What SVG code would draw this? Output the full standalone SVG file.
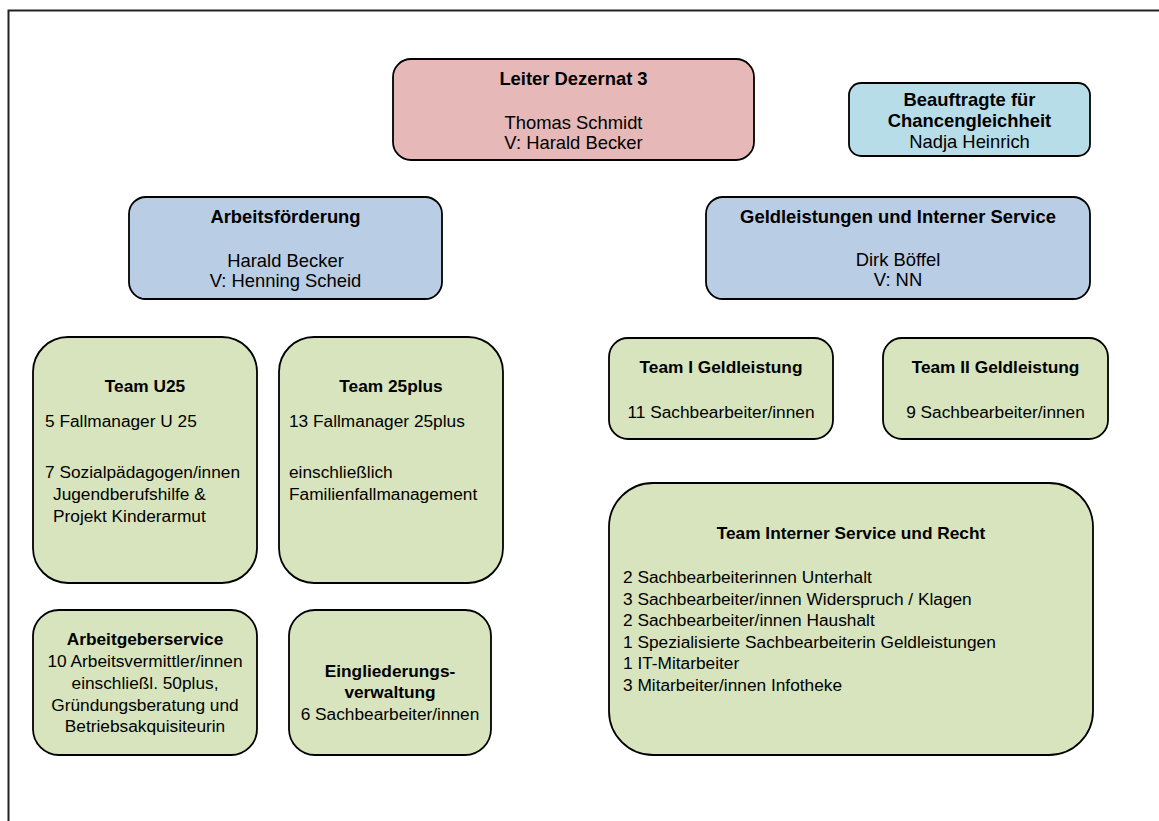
<svg xmlns="http://www.w3.org/2000/svg" width="1159" height="821" viewBox="0 0 1159 821">
<style>
  .box { stroke: #000; stroke-width: 1.8; }
  .red { fill: #e6b8b7; }
  .cyan { fill: #b7dde8; }
  .blue { fill: #b9cde5; }
  .green { fill: #d7e4bd; }
  text { font-family: "Liberation Sans", Arial, sans-serif; fill: #000; }
  .l { font-size: 18.4px; }
  .s { font-size: 17.3px; }
  .b { font-weight: bold; }
  .c { text-anchor: middle; }
</style>
<rect x="0" y="0" width="1159" height="821" fill="#fff"/>
<path d="M8.5,821 V10.5 H1159" fill="none" stroke="#222" stroke-width="2"/>
<g id="connectors"></g>

<g id="leiter">
  <rect class="box red" x="393" y="59" width="361" height="101" rx="18"/>
  <text class="l b c" x="573.5" y="85">Leiter Dezernat 3</text>
  <text class="l c" x="573.5" y="129">Thomas Schmidt</text>
  <text class="l c" x="573.5" y="149">V: Harald Becker</text>
</g>

<g id="beauftragte">
  <rect class="box cyan" x="849" y="83" width="241" height="73" rx="12"/>
  <text class="l b c" x="969.5" y="106">Beauftragte für</text>
  <text class="l b c" x="969.5" y="127">Chancengleichheit</text>
  <text class="l c" x="969.5" y="148">Nadja Heinrich</text>
</g>

<g id="arbeitsfoerderung">
  <rect class="box blue" x="129" y="197" width="313" height="102" rx="17"/>
  <text class="l b c" x="285.5" y="223">Arbeitsförderung</text>
  <text class="l c" x="285.5" y="267">Harald Becker</text>
  <text class="l c" x="285.5" y="287">V: Henning Scheid</text>
</g>

<g id="geldleistungen">
  <rect class="box blue" x="706" y="197" width="384" height="102" rx="17"/>
  <text class="l b c" x="898" y="223">Geldleistungen und Interner Service</text>
  <text class="l c" x="898" y="266">Dirk Böffel</text>
  <text class="l c" x="898" y="286">V: NN</text>
</g>

<g id="team-u25">
  <rect class="box green" x="33" y="337" width="224" height="246" rx="35"/>
  <text class="s b c" x="145" y="392">Team U25</text>
  <text class="s" x="45" y="427">5 Fallmanager U 25</text>
  <text class="s" x="45" y="478">7 Sozialpädagogen/innen</text>
  <text class="s" x="53" y="500">Jugendberufshilfe &amp;</text>
  <text class="s" x="53" y="522">Projekt Kinderarmut</text>
</g>

<g id="team-25plus">
  <rect class="box green" x="279" y="337" width="224" height="246" rx="35"/>
  <text class="s b c" x="391" y="392">Team 25plus</text>
  <text class="s" x="289" y="427">13 Fallmanager 25plus</text>
  <text class="s" x="289" y="478">einschließlich</text>
  <text class="s" x="289" y="500">Familienfallmanagement</text>
</g>

<g id="arbeitgeberservice">
  <rect class="box green" x="33" y="610" width="224" height="145" rx="26"/>
  <text class="s b c" x="145" y="645">Arbeitgeberservice</text>
  <text class="s c" x="145" y="667">10 Arbeitsvermittler/innen</text>
  <text class="s c" x="145" y="689">einschließl. 50plus,</text>
  <text class="s c" x="145" y="711">Gründungsberatung und</text>
  <text class="s c" x="145" y="732">Betriebsakquisiteurin</text>
</g>

<g id="eingliederungsverwaltung">
  <rect class="box green" x="289" y="610" width="202" height="145" rx="26"/>
  <text class="s b c" x="390" y="677">Eingliederungs-</text>
  <text class="s b c" x="390" y="698">verwaltung</text>
  <text class="s c" x="390" y="720">6 Sachbearbeiter/innen</text>
</g>

<g id="team-1-geld">
  <rect class="box green" x="609" y="338" width="224" height="101" rx="19"/>
  <text class="s b c" x="721" y="373">Team I Geldleistung</text>
  <text class="s c" x="721" y="418">11 Sachbearbeiter/innen</text>
</g>

<g id="team-2-geld">
  <rect class="box green" x="883" y="338" width="225" height="101" rx="19"/>
  <text class="s b c" x="995.5" y="373">Team II Geldleistung</text>
  <text class="s c" x="995.5" y="418">9 Sachbearbeiter/innen</text>
</g>

<g id="team-interner-service">
  <rect class="box green" x="609" y="483" width="484" height="272" rx="44"/>
  <text class="s b c" x="851" y="539">Team Interner Service und Recht</text>
  <text class="s" x="623" y="583">2 Sachbearbeiterinnen Unterhalt</text>
  <text class="s" x="623" y="605">3 Sachbearbeiter/innen Widerspruch / Klagen</text>
  <text class="s" x="623" y="626">2 Sachbearbeiter/innen Haushalt</text>
  <text class="s" x="623" y="648">1 Spezialisierte Sachbearbeiterin Geldleistungen</text>
  <text class="s" x="623" y="669">1 IT-Mitarbeiter</text>
  <text class="s" x="623" y="691">3 Mitarbeiter/innen Infotheke</text>
</g>
</svg>
